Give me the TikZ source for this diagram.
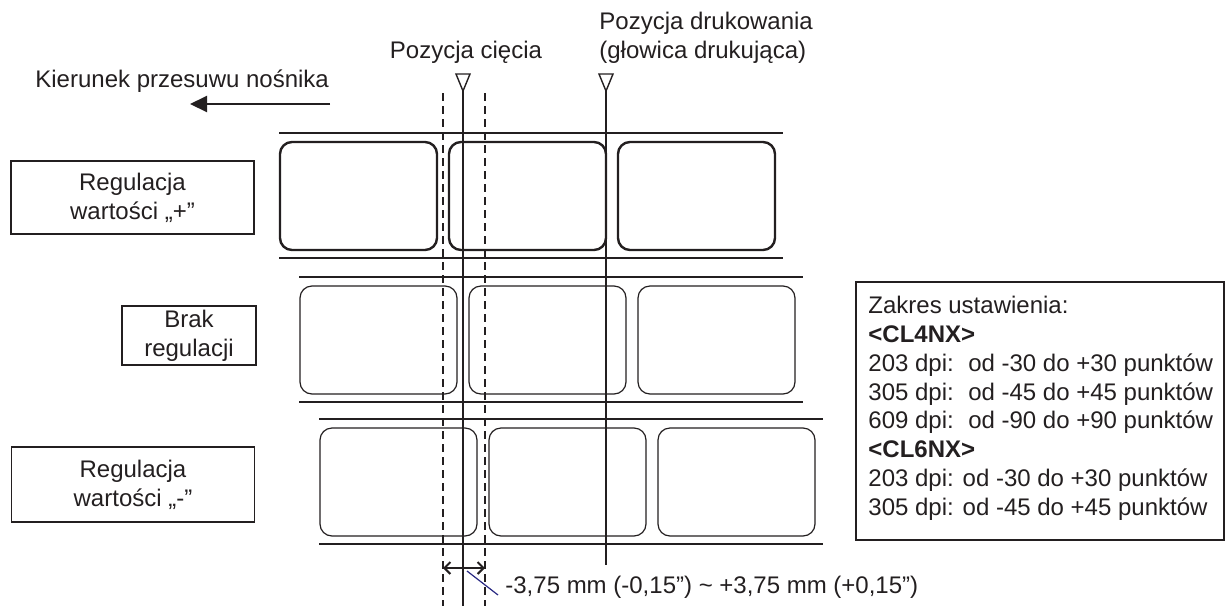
\documentclass[tikz,border=0pt]{standalone}
\usepackage{fontspec}
\setmainfont{Liberation Sans}
\usepackage{xcolor}
\usepackage{tikz}
\usetikzlibrary{arrows.meta,positioning,calc}

\definecolor{ink}{RGB}{35,31,32}
\definecolor{leadblue}{RGB}{40,40,130}

\begin{document}
\begin{tikzpicture}[
x=0.5pt, y=-0.5pt,
every node/.style={text=ink, font=\fontsize{12pt}{14.45pt}\selectfont, inner sep=0pt},
modebox/.style={draw=ink, line width=0.75pt, align=center},
card/.style={draw=ink, rounded corners=6pt},
liner/.style={draw=ink, line width=0.75pt},
guide/.style={draw=ink, line width=0.9pt},
cutzone/.style={draw=ink, line width=0.7pt, dash pattern=on 4pt off 2.5pt},
marker/.style={draw=ink, line width=0.7pt, line join=miter},
line/.style={-{Triangle[length=8.5pt, width=8pt]}, draw=ink, line width=1pt},
dimline/.style={{Straight Barb[length=3pt, width=6pt]}-{Straight Barb[length=3pt, width=6pt]}, draw=ink, line width=1pt},
leader/.style={draw=leadblue, line width=0.6pt}
]
\useasboundingbox (0,0) rectangle (1226,606);

% --- Feed direction ---
\node[anchor=base west] (feedtext) at (35,87) {Kierunek przesuwu nośnika};
\coordinate (feedstart) at (330,104);
\coordinate (feedend) at (190,104);
\draw[line] (feedstart) -- (feedend);

% --- Adjustment captions ---
\node[modebox, minimum width=121.5pt, minimum height=36.5pt] (plus) at (132.5,197.5) {Regulacja\\wartości „+”};
\node[modebox, minimum width=67pt, minimum height=29.5pt] (zero) at (189,335.5) {Brak\\regulacji};
\node[modebox, minimum width=121.5pt, minimum height=37.5pt] (minus) at (133,484.5) {Regulacja\\wartości „-”};

% --- Label strips ---
\foreach \y/\dx/\w in {133/0/1.2pt, 277/20/0.6pt, 419/40/0.6pt} {
  \draw[liner] (279+\dx,\y) -- (783+\dx,\y);
  \draw[liner] (279+\dx,\y+125) -- (783+\dx,\y+125);
  \foreach \i in {0,1,2}
    \draw[card, line width=\w] (280+\dx+169*\i,\y+9) rectangle ++(157,108);
}

% --- Cut position ---
\node[anchor=base] (cuttext) at (466,58) {Pozycja cięcia};
\coordinate (cuttip) at (463,91);
\coordinate (cutbottom) at (463,606);
\draw[marker] (cuttip) -- ++(-7,-17) -- ++(14,0) -- cycle;
\draw[guide] (cuttip) -- (cutbottom);
\coordinate (zoneL) at (443,93);
\coordinate (zoneR) at (485,93);
\draw[cutzone] (zoneL) -- (443,606);
\draw[cutzone] (zoneR) -- (485,606);

% --- Print position ---
\node[anchor=north west, align=left] (printtext) at (599,11.5) {Pozycja drukowania\\(głowica drukująca)};
\coordinate (printtip) at (606,91);
\coordinate (printbottom) at (606,565);
\draw[marker] (printtip) -- ++(-7,-17) -- ++(14,0) -- cycle;
\draw[guide] (printtip) -- (printbottom);

% --- Adjustment range ---
\coordinate (dimL) at (443,568);
\coordinate (dimR) at (485,568);
\draw[dimline] (dimL) -- (dimR);
\node[anchor=base west] (rangetext) at (505,593) {-3,75 mm (-0,15”) \textasciitilde{} +3,75 mm (+0,15”)};
\coordinate (leadstart) at (467,571);
\draw[leader] (leadstart) -- ($(rangetext.base west)+(-7,2)$);

% --- Setting range ---
\draw[liner] (856,282) rectangle (1224,540);
\node[anchor=north west, align=left] (settings) at (868,295.5) {Zakres ustawienia:\\
\textbf{<CL4NX>}\\
203 dpi:\hspace{2.8pt} od -30 do +30 punktów\\
305 dpi:\hspace{2.8pt} od -45 do +45 punktów\\
609 dpi:\hspace{2.8pt} od -90 do +90 punktów\\
\textbf{<CL6NX>}\\
203 dpi: od -30 do +30 punktów\\
305 dpi: od -45 do +45 punktów};

\end{tikzpicture}
\end{document}
